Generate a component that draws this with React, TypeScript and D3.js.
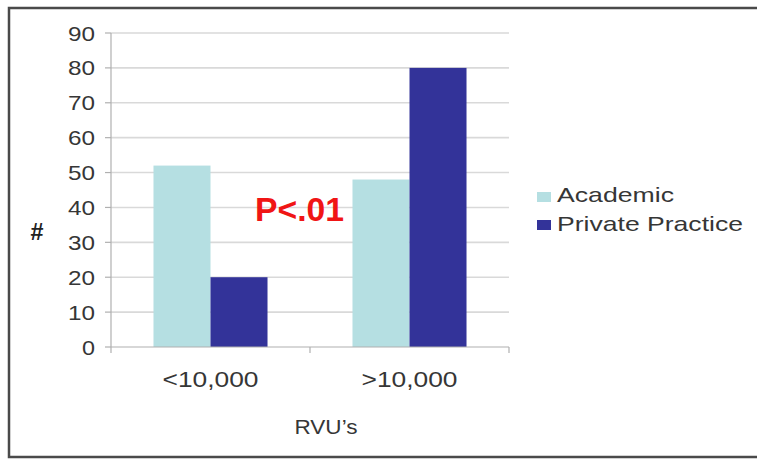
import React from "react";
import * as d3 from "d3";

// Physicians by annual RVU volume and practice setting
const categories = ["<10,000", ">10,000"];
const seriesNames = ["Academic", "Private Practice"];
const academicValues = [52, 48];
const privateValues = [20, 80];
const yTicks = [0, 10, 20, 30, 40, 50, 60, 70, 80, 90];

const colors = ["#b5dfe2", "#333399"];
const textColor = "#363636";
const font = "'Liberation Sans', Arial, sans-serif";

const W = 757;
const H = 460;
const plot = { left: 111, right: 509, top: 33, bottom: 347 };

export default function App() {
  const x = d3
    .scaleBand<string>()
    .domain(categories)
    .range([plot.left, plot.right])
    .paddingInner(0.427)
    .paddingOuter(0.2135);
  const x1 = d3.scaleBand<string>().domain(seriesNames).range([0, x.bandwidth()]);
  const y = d3.scaleLinear().domain([0, 90]).range([plot.bottom, plot.top]);

  const rows = categories.map((c, i) => ({
    category: c,
    values: [academicValues[i], privateValues[i]],
  }));

  const step = x.step();
  const catTicks = [plot.left, ...categories.map((c) => (x(c) as number) + x.bandwidth() / 2 + step / 2)];

  return (
    <svg
      width={W}
      height={H}
      style={{ position: "absolute", left: 0, top: 0, background: "#fff" }}
      fontFamily={font}
    >
      <rect x={0} y={0} width={W} height={H} fill="#fff" />
      {/* frame */}
      <rect x={9} y={8} width={760} height={449} fill="none" stroke="#4a4a4a" strokeWidth={2.5} />

      {/* gridlines and y ticks */}
      {yTicks.map((t) => (
        <g key={t}>
          {t > 0 && (
            <line x1={plot.left} x2={plot.right} y1={y(t)} y2={y(t)} stroke="#d9d9d9" strokeWidth={1.6} />
          )}
          <line x1={plot.left - 6} x2={plot.left} y1={y(t)} y2={y(t)} stroke="#b0b0b0" strokeWidth={1.2} />
          <text
            x={95}
            y={y(t)}
            dy="0.36em"
            textAnchor="end"
            fontSize={21}
            fill={textColor}
            textLength={t === 0 ? 13 : 27}
            lengthAdjust="spacingAndGlyphs"
          >
            {t}
          </text>
        </g>
      ))}

      {/* bars */}
      {rows.map((r) => (
        <g key={r.category} transform={`translate(${x(r.category)},0)`}>
          {r.values.map((v, j) => (
            <rect
              key={seriesNames[j]}
              x={x1(seriesNames[j])}
              y={y(v)}
              width={x1.bandwidth()}
              height={y(0) - y(v)}
              fill={colors[j]}
            />
          ))}
        </g>
      ))}

      {/* axes */}
      <line x1={plot.left} x2={plot.left} y1={plot.top} y2={plot.bottom} stroke="#b0b0b0" strokeWidth={1.2} />
      <line x1={plot.left} x2={plot.right} y1={plot.bottom} y2={plot.bottom} stroke="#b0b0b0" strokeWidth={1.2} />
      {catTicks.map((tx, i) => (
        <line key={i} x1={tx} x2={tx} y1={plot.bottom} y2={plot.bottom + 6} stroke="#b0b0b0" strokeWidth={1.2} />
      ))}

      {/* category labels */}
      {categories.map((c) => (
        <text
          key={c}
          x={(x(c) as number) + x.bandwidth() / 2}
          y={387}
          textAnchor="middle"
          fontSize={22}
          fill={textColor}
          textLength={96}
          lengthAdjust="spacingAndGlyphs"
        >
          {c}
        </text>
      ))}

      {/* axis titles */}
      <text x={326} y={434} textAnchor="middle" fontSize={20.5} fill={textColor} textLength={63} lengthAdjust="spacingAndGlyphs">
        RVU’s
      </text>
      <text x={37} y={240} textAnchor="middle" fontSize={24} fontWeight="bold" fill="#222" textLength={13} lengthAdjust="spacingAndGlyphs">
        #
      </text>

      {/* significance annotation */}
      <text
        x={255}
        y={221}
        fontSize={33.5}
        fontWeight="bold"
        fill="#f01515"
        textLength={89}
        lengthAdjust="spacingAndGlyphs"
      >
        P&lt;.01
      </text>

      {/* legend */}
      {seriesNames.map((s, i) => (
        <g key={s}>
          <rect x={537} y={192 + i * 28} width={14} height={10} fill={colors[i]} />
          <text
            x={557}
            y={202 + i * 29}
            fontSize={21}
            fill={textColor}
            textLength={i === 0 ? 117 : 186}
            lengthAdjust="spacingAndGlyphs"
          >
            {s}
          </text>
        </g>
      ))}
    </svg>
  );
}
